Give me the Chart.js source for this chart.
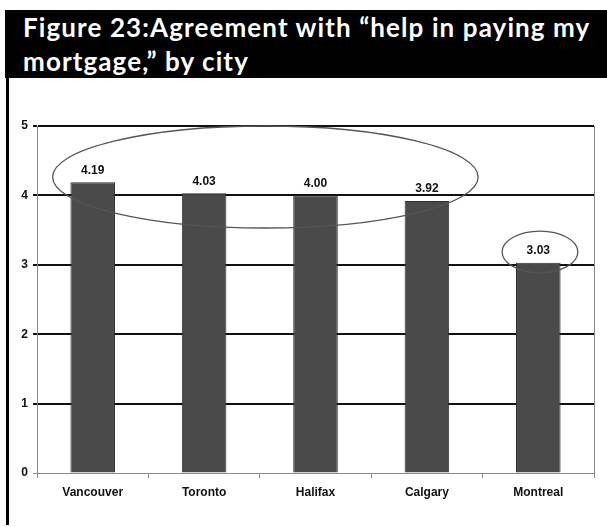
<!DOCTYPE html>
<html>
<head>
<meta charset="utf-8">
<script src="https://cdn.jsdelivr.net/npm/chart.js@4.4.1/dist/chart.umd.min.js"></script>
<style>
  html, body { margin: 0; padding: 0; background: #fff; }
  body { width: 607px; height: 527px; position: relative; overflow: hidden; }
  .title {
    position: absolute; left: 5px; top: 10px; width: 602px; height: 68px;
    background: #000; color: #fff;
    font-family: Lato, "Open Sans", sans-serif; font-weight: 700;
    font-size: 26px; line-height: 34px; letter-spacing: 1.1px;
    padding: 0 0 0 18px; box-sizing: border-box;
    white-space: nowrap; overflow: hidden;
  }
  .frame { position: absolute; left: 6px; top: 78px; width: 3px; height: 447px; background: #000; }
  #chart { position: absolute; left: 0; top: 0; }
</style>
</head>
<body>
<div class="title">Figure 23:Agreement with “help in paying my<br>mortgage,” by city</div>
<div class="frame"></div>
<canvas id="chart" width="607" height="527"></canvas>
<script>
const cities = ["Vancouver", "Toronto", "Halifax", "Calgary", "Montreal"];
const agreement = [4.19, 4.03, 4.00, 3.92, 3.03];
const yTicks = [0, 1, 2, 3, 4, 5];

// hand-drawn circles around groups of bars, in category / value units
const highlights = [
  { x: 1.55, y: 4.265, rx: 1.91, ry: 0.735 },
  { x: 4.015, y: 3.185, rx: 0.34, ry: 0.3 },
];

const fontFamily = "'Liberation Sans', Arial, sans-serif";

const valueLabels = {
  id: "valueLabels",
  afterDatasetsDraw(chart) {
    const ctx = chart.ctx;
    const meta = chart.getDatasetMeta(0);
    ctx.save();
    ctx.fillStyle = "#111";
    ctx.font = "bold 12px " + fontFamily;
    ctx.textAlign = "center";
    ctx.textBaseline = "bottom";
    meta.data.forEach((bar, i) => {
      ctx.fillText(agreement[i].toFixed(2), bar.x, bar.y - 6);
    });
    ctx.restore();
  },
};

const circles = {
  id: "circles",
  afterDraw(chart) {
    const { ctx, chartArea, scales } = chart;
    const step = scales.x.getPixelForValue(1) - scales.x.getPixelForValue(0);
    const unit = scales.y.getPixelForValue(0) - scales.y.getPixelForValue(1);
    ctx.save();
    // right edge of the plot box
    ctx.strokeStyle = "#8a8a8a";
    ctx.lineWidth = 1;
    ctx.beginPath();
    ctx.moveTo(chartArea.right + 0.5, chartArea.top);
    ctx.lineTo(chartArea.right + 0.5, chartArea.bottom);
    ctx.stroke();

    ctx.strokeStyle = "#555";
    ctx.lineWidth = 1.3;
    highlights.forEach((h) => {
      const cx = scales.x.getPixelForValue(h.x);
      const cy = scales.y.getPixelForValue(h.y);
      ctx.beginPath();
      ctx.ellipse(cx, cy, h.rx * step, h.ry * unit, 0, 0, Math.PI * 2);
      ctx.stroke();
    });
    ctx.restore();
  },
};

new Chart(document.getElementById("chart"), {
  type: "bar",
  data: {
    labels: cities,
    datasets: [
      {
        data: agreement,
        backgroundColor: "#4a4a4a",
        borderColor: "#2e2e2e",
        borderWidth: 1,
        categoryPercentage: 1,
        barPercentage: 0.4,
      },
    ],
  },
  options: {
    responsive: false,
    animation: false,
    layout: { padding: { left: 0, top: 126, right: 13, bottom: 24 } },
    plugins: {
      legend: { display: false },
      tooltip: { enabled: false },
    },
    scales: {
      x: {
        afterFit(scale) { scale.height = 30; },
        grid: {
          offset: true,
          drawOnChartArea: false,
          color: "#8a8a8a",
          tickLength: 5,
        },
        border: { color: "#8a8a8a", width: 1 },
        ticks: { color: "#111", font: { family: fontFamily, size: 12, weight: "bold" }, padding: 7 },
      },
      y: {
        min: 0,
        max: 5,
        afterFit(scale) { scale.width = 37; },
        afterBuildTicks(scale) { scale.ticks = yTicks.map((v) => ({ value: v })); },
        grid: {
          color: (c) => (c.tick && c.tick.value === 0 ? "#8a8a8a" : "#111"),
          lineWidth: (c) => (c.tick && c.tick.value === 0 ? 1 : 2),
          tickLength: 4,
        },
        border: { color: "#8a8a8a", width: 1 },
        ticks: { color: "#111", font: { family: fontFamily, size: 12, weight: "bold" }, padding: 5 },
      },
    },
  },
  plugins: [valueLabels, circles],
});
</script>
</body>
</html>
